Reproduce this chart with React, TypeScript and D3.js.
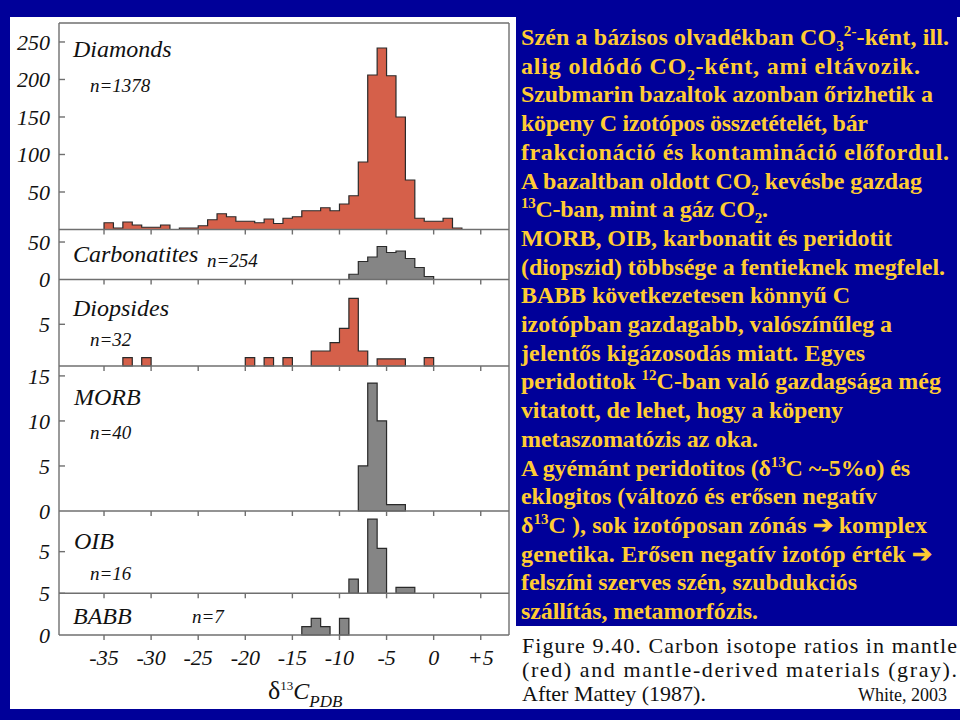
import React from 'react';
import * as d3 from 'd3';

// ---------- DATA ----------
const xTicks = [-35, -30, -25, -20, -15, -10, -5, 0, 5];
const xTickLabels = ['-35', '-30', '-25', '-20', '-15', '-10', '-5', '0', '+5'];

const seriesNames = ['Diamonds', 'Carbonatites', 'Diopsides', 'MORB', 'OIB', 'BABB'];
const seriesN = ['n=1378', 'n=254', 'n=32', 'n=40', 'n=16', 'n=7'];
const seriesKind = ['mantle', 'derived', 'mantle', 'derived', 'derived', 'derived'];
const seriesStart = [-35, -9, -33, -8, -9, -14]; // left edge of first 1-permil bin
const diamonds = [9, 2, 10, 6, 3, 3, 6, 0, 2, 2, 5, 13, 21, 17, 11, 11, 9, 14, 8, 15, 17, 25, 25, 29, 25, 34, 45, 90, 206, 242, 205, 150, 66, 15, 11, 11, 15, 2];
const carbonatites = [7, 24, 30, 44, 36, 38, 28, 16, 4];
const diopsides = [1, 0, 1, 0, 0, 0, 0, 0, 0, 0, 0, 0, 0, 1, 0, 1, 0, 1, 0, 0, 1.8, 1.8, 2.8, 4.5, 8.1, 1.8, 0, 0.85, 0.85, 0.85, 0, 0, 1];
const morb = [5, 14.2, 10, 0.7, 0.7];
const oib = [1.7, 0, 8.9, 5.4, 0, 0.7, 0.7];
const babb = [1, 2, 1, 0, 2];
const seriesValues = [diamonds, carbonatites, diopsides, morb, oib, babb];

const yDomainMax = [275.3, 66.7, 10.37, 16.1, 9.88, 5];
const yTickMarks = [[50, 100, 150, 200, 250], [50], [5], [5, 10, 15], [5], [5]];
const yTickLabelValues = [[50, 100, 150, 200, 250], [0, 50], [5], [0, 5, 10, 15], [5], [0, 5]];

type Seg = [string, string];
const noteLines: Seg[][] = [
  [['Szén a bázisos olvadékban CO', ''], ['3', 'sub'], ['2-', 'sup'], ['-ként, ill.', '']],
  [['alig oldódó CO', ''], ['2', 'sub'], ['-ként, ami eltávozik.', '']],
  [['Szubmarin bazaltok azonban őrizhetik a', '']],
  [['köpeny C izotópos összetételét, bár', '']],
  [['frakcionáció és kontamináció előfordul.', '']],
  [['A bazaltban oldott CO', ''], ['2', 'sub'], [' kevésbe gazdag', '']],
  [['13', 'sup'], ['C-ban, mint a gáz CO', ''], ['2', 'sub'], ['.', '']],
  [['MORB, OIB, karbonatit és peridotit', '']],
  [['(diopszid) többsége a fentieknek megfelel.', '']],
  [['BABB következetesen könnyű C', '']],
  [['izotópban gazdagabb, valószínűleg a', '']],
  [['jelentős kigázosodás miatt.  Egyes', '']],
  [['peridotitok ', ''], ['12', 'sup'], ['C-ban való gazdagsága még', '']],
  [['vitatott, de lehet, hogy a köpeny', '']],
  [['metaszomatózis az oka.', '']],
  [['A gyémánt peridotitos (δ', ''], ['13', 'sup'], ['C ~-5%o) és', '']],
  [['eklogitos (változó és erősen negatív', '']],
  [['δ', ''], ['13', 'sup'], ['C ), sok izotóposan zónás ➔ komplex', '']],
  [['genetika.  Erősen negatív izotóp érték ➔', '']],
  [['felszíni szerves szén, szubdukciós', '']],
  [['szállítás, metamorfózis.', '']],
];
const noteLineRight = [949, 920, 933, 868, 949, 922, 768, 892, 945, 850, 892, 865, 941, 843, 758, 910, 877, 927, 932, 857, 758];

const captionLines = [
  'Figure 9.40.  Carbon isotope ratios in mantle',
  '(red) and mantle-derived materials (gray).',
  'After Mattey (1987).',
];
const captionCredit = 'White, 2003';

// ---------- LAYOUT ----------
const W = 960;
const H = 720;
const BLUE = '#000099';
const YELLOW = '#FFCC33';
const RED = '#d5604a';
const GRAY = '#858585';
const FRAME = '#6f6f6f';
const plotLeft = 59;
const plotRight = 509;
const panelTop = [23, 229.5, 279.5, 366, 511, 593.3];
const panelBottom = [229.5, 279.5, 366, 511, 593.3, 635];
const nameLabelPos = [[73, 57], [73, 262], [73, 316], [74, 405], [74, 549], [73, 624]];
const nLabelPos = [[90, 92], [207, 267], [90, 346], [90, 439], [90, 580], [192, 623]];

const x = d3.scaleLinear().domain([-39.78, 8]).range([plotLeft, plotRight]);

function stepPaths(start: number, vals: number[], y: d3.ScaleLinear<number, number>) {
  const paths: string[] = [];
  let run: [number, number][] = [];
  const flush = (endEdge: number) => {
    if (run.length) {
      run.push([x(endEdge), y(0)]);
      paths.push((d3.line()(run) as string) + 'Z');
      run = [];
    }
  };
  vals.forEach((v, i) => {
    const e0 = start + i;
    if (v > 0) {
      if (!run.length) run.push([x(e0), y(0)]);
      run.push([x(e0), y(v)]);
      run.push([x(e0 + 1), y(v)]);
    } else {
      flush(e0);
    }
  });
  flush(start + vals.length);
  return paths;
}

const serifFont = '"Liberation Serif", "Times New Roman", serif';

export default function App() {
  const panels = seriesNames.map((name, i) => {
    const y = d3.scaleLinear().domain([0, yDomainMax[i]]).range([panelBottom[i], panelTop[i]]);
    return { name, i, y, paths: stepPaths(seriesStart[i], seriesValues[i], y) };
  });

  const renderSegs = (segs: Seg[]) => {
    let cur = 0;
    return segs.map(([t, k], j) => {
      const target = k === 'sub' ? 6 : k === 'sup' ? -9 : 0;
      const dy = target - cur;
      cur = target;
      return (
        <tspan key={j} dy={dy} fontSize={k ? 15 : undefined}>
          {t}
        </tspan>
      );
    });
  };

  return (
    <svg width={W} height={H} style={{ position: 'absolute', left: 0, top: 0, display: 'block' }}>
      <rect x={0} y={0} width={W} height={H} fill={BLUE} />
      <rect x={10} y={17} width={W - 10} height={692} fill="#ffffff" />
      <rect x={516} y={0} width={441} height={626} fill={BLUE} />

      {/* histograms */}
      {panels.map((p) => (
        <g key={p.name}>
          {p.paths.map((d, j) => (
            <path key={j} d={d} fill={seriesKind[p.i] === 'mantle' ? RED : GRAY} stroke="#2a2a2a" strokeWidth={1.2} strokeLinejoin="miter" />
          ))}
        </g>
      ))}

      {/* frame and panel separators */}
      <g stroke={FRAME} strokeWidth={1.4} fill="none">
        <line x1={plotLeft} x2={plotRight} y1={panelTop[0]} y2={panelTop[0]} />
        <line x1={plotLeft} x2={plotLeft} y1={panelTop[0]} y2={panelBottom[5]} />
        <line x1={plotRight} x2={plotRight} y1={panelTop[0]} y2={panelBottom[5]} />
        {panels.map((p) => (
          <line key={p.name} x1={plotLeft} x2={plotRight} y1={panelBottom[p.i]} y2={panelBottom[p.i]} />
        ))}
        {panels.map((p) =>
          xTicks.map((t) => (
            <line key={p.name + t} x1={x(t)} x2={x(t)} y1={panelBottom[p.i]} y2={panelBottom[p.i] + 5} />
          ))
        )}
        {panels.map((p) =>
          yTickMarks[p.i].map((t) => (
            <line key={p.name + 'y' + t} x1={plotLeft} x2={plotLeft + 6} y1={p.y(t)} y2={p.y(t)} />
          ))
        )}
      </g>

      {/* y tick labels */}
      <g fontFamily={serifFont} fontStyle="italic" fontSize={22} fill="#111" textAnchor="end">
        {panels.map((p) =>
          yTickLabelValues[p.i].map((t) => (
            <text key={p.name + 'l' + t} x={50} y={p.y(t)} dy="0.35em">
              {t}
            </text>
          ))
        )}
      </g>

      {/* x tick labels */}
      <g fontFamily={serifFont} fontStyle="italic" fontSize={22} fill="#111" textAnchor="middle">
        {xTicks.map((t, j) => (
          <text key={t} x={x(t)} y={665}>
            {xTickLabels[j]}
          </text>
        ))}
      </g>

      {/* axis title */}
      <text x={268} y={699} fontFamily={serifFont} fill="#111">
        <tspan fontSize={26}>δ</tspan>
        <tspan fontSize={13} dy={-9}>13</tspan>
        <tspan fontSize={24} fontStyle="italic" dy={9}>C</tspan>
        <tspan fontSize={17} fontStyle="italic" dy={8}>PDB</tspan>
      </text>

      {/* panel labels */}
      <g fontFamily={serifFont} fontStyle="italic" fill="#111">
        {panels.map((p) => (
          <g key={p.name + 'lab'}>
            <text x={nameLabelPos[p.i][0]} y={nameLabelPos[p.i][1]} fontSize={24}>
              {p.name}
            </text>
            <text x={nLabelPos[p.i][0]} y={nLabelPos[p.i][1]} fontSize={19}>
              {seriesN[p.i]}
            </text>
          </g>
        ))}
      </g>

      {/* note text */}
      <g fontFamily={serifFont} fontWeight="bold" fontSize={24} fill={YELLOW} style={{ whiteSpace: 'pre' }}>
        {noteLines.map((segs, i) => (
          <text key={i} x={521} y={45 + 28.7 * i} textLength={noteLineRight[i] - 521} lengthAdjust="spacing">
            {renderSegs(segs)}
          </text>
        ))}
      </g>

      {/* caption */}
      <g fontFamily={serifFont} fontSize={22} fill="#111" style={{ whiteSpace: 'pre' }}>
        <text x={522} y={653} textLength={435} lengthAdjust="spacing">{captionLines[0]}</text>
        <text x={522} y={677} textLength={435} lengthAdjust="spacing">{captionLines[1]}</text>
        <text x={522} y={701}>{captionLines[2]}</text>
        <text x={858} y={701} fontSize={18}>{captionCredit}</text>
      </g>
    </svg>
  );
}
